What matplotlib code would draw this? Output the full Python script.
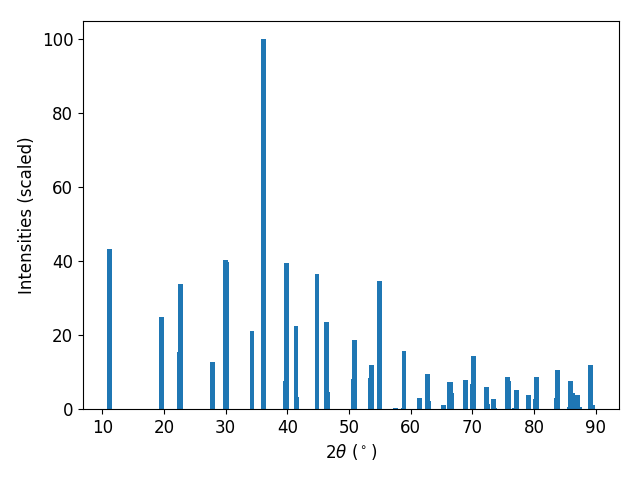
import matplotlib
matplotlib.use("Agg")
import matplotlib.pyplot as plt

two_theta = [11.22, 19.55, 22.55, 22.75, 27.93, 30.04, 30.2, 34.26, 36.2,
             39.75, 39.9, 41.4, 41.56, 44.8, 46.27, 46.43, 50.65, 50.81,
             53.4, 53.57, 54.87, 57.47, 58.75, 58.9, 61.36, 62.66, 62.82,
             65.25, 66.23, 66.39, 66.55, 68.8, 69.95, 70.1, 72.23, 72.4,
             73.37, 73.53, 75.64, 75.8, 76.8, 77.1, 79.05, 80.2, 80.34,
             83.6, 83.75, 85.7, 85.87, 86.2, 87.0, 87.3, 89.1, 89.4]
intensity = [43.4, 24.9, 15.4, 33.9, 12.7, 40.4, 39.8, 21.1, 100.0,
             7.6, 39.6, 22.5, 3.3, 36.6, 23.6, 4.6, 8.1, 18.7,
             8.4, 11.9, 34.7, 0.4, 0.4, 15.7, 3.0, 9.5, 2.2,
             1.1, 7.3, 7.2, 4.3, 7.9, 6.8, 14.4, 6.0, 1.4,
             2.7, 0.4, 8.7, 7.6, 0.4, 5.1, 3.8, 2.7, 8.7,
             3.0, 10.6, 0.6, 7.6, 4.3, 3.8, 0.5, 11.9, 1.1]

plt.rcParams['font.size'] = 12
fig, ax = plt.subplots(figsize=(6.4, 4.8), dpi=100)
ax.bar(two_theta, intensity, width=0.8)
ax.set_xlabel(r"2$\theta$ ($^\circ$)")
ax.set_ylabel("Intensities (scaled)")
fig.subplots_adjust(left=83/640, right=619/640, top=1-21/480, bottom=1-409/480)
fig.savefig("out.png")
